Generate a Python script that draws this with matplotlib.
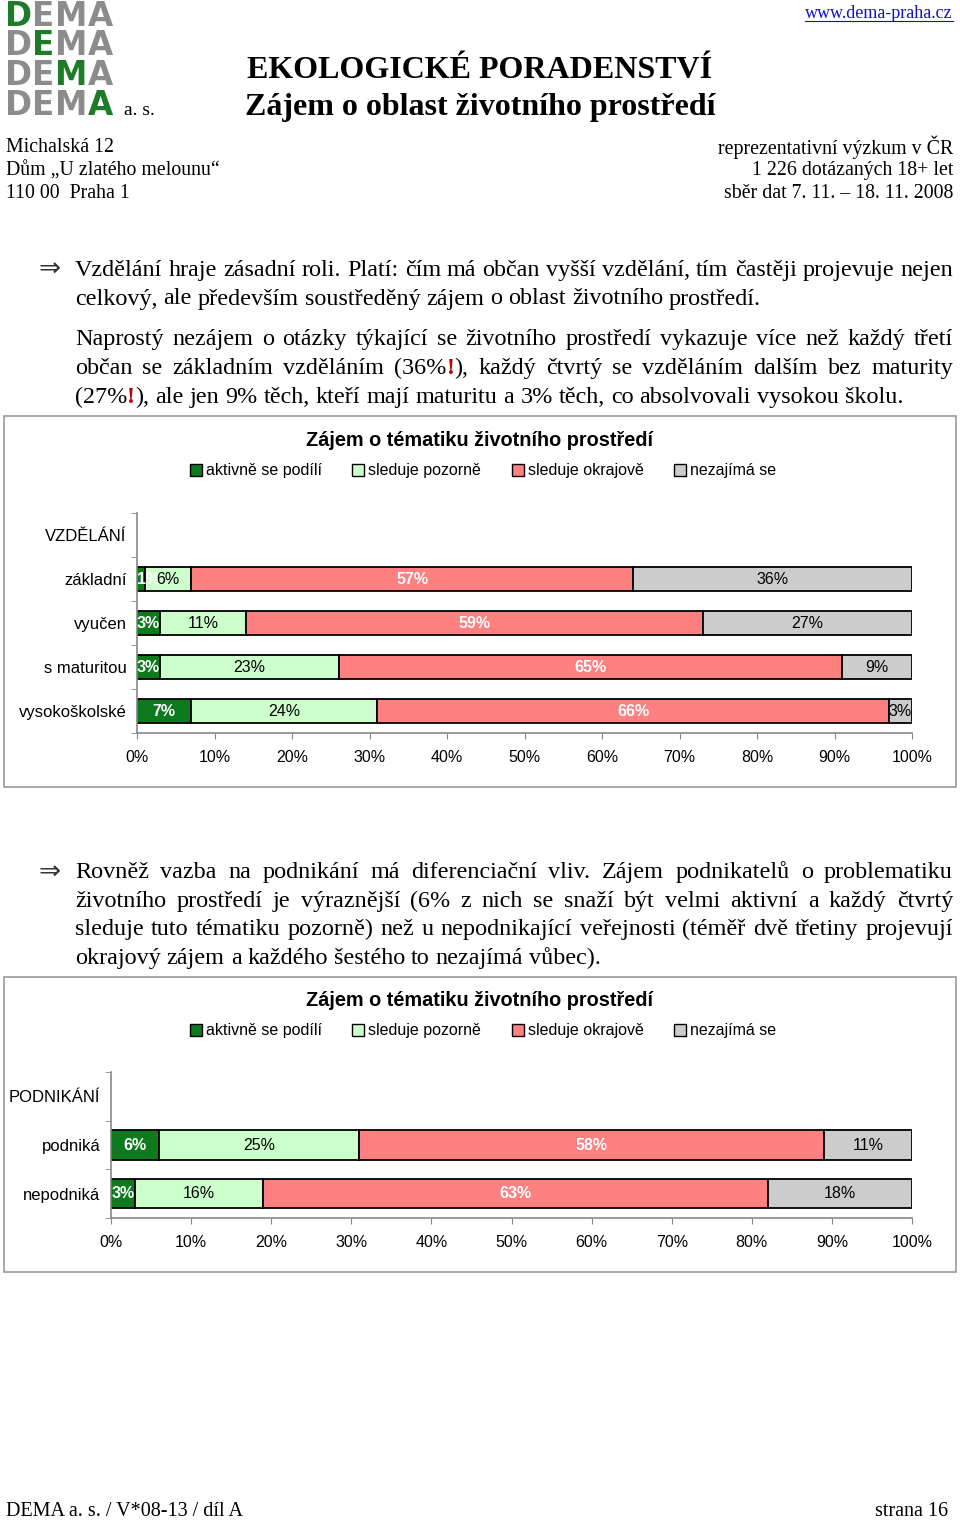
import numpy as np
import matplotlib
matplotlib.use('Agg')
import matplotlib.pyplot as plt
from matplotlib.patches import Rectangle, Patch
from matplotlib.lines import Line2D

# ---------- data ----------
series_names = ['aktivně se podílí', 'sleduje pozorně', 'sleduje okrajově', 'nezajímá se']
series_colors = ['#0E7A1E', '#CCFFCC', '#FF8080', '#CCCCCC']
label_colors = ['white', 'black', 'white', 'black']
label_weights = ['bold', 'normal', 'bold', 'normal']

edu_cats = ['VZDĚLÁNÍ', 'základní', 'vyučen', 's maturitou', 'vysokoškolské']
edu_active = [1, 3, 3, 7]
edu_careful = [6, 11, 23, 24]
edu_marginal = [57, 59, 65, 66]
edu_none = [36, 27, 9, 3]

biz_cats = ['PODNIKÁNÍ', 'podniká', 'nepodniká']
biz_active = [6, 3]
biz_careful = [25, 16]
biz_marginal = [58, 63]
biz_none = [11, 18]

chart_title = 'Zájem o tématiku životního prostředí'
x_ticks = [0, 10, 20, 30, 40, 50, 60, 70, 80, 90, 100]

para1 = [
    'Vzdělání hraje zásadní roli. Platí: čím má občan vyšší vzdělání, tím častěji projevuje nejen',
    'celkový, ale především soustředěný zájem o oblast životního prostředí.',
]
para2 = [
    'Naprostý nezájem o otázky týkající se životního prostředí vykazuje více než každý třetí',
    'občan se základním vzděláním (36%!), každý čtvrtý se vzděláním dalším bez maturity',
    '(27%!), ale jen 9% těch, kteří mají maturitu a 3% těch, co absolvovali vysokou školu.',
]
para3 = [
    'Rovněž vazba na podnikání má diferenciační vliv. Zájem podnikatelů o problematiku',
    'životního prostředí je výraznější (6% z nich se snaží být velmi aktivní a každý čtvrtý',
    'sleduje tuto tématiku pozorně) než u nepodnikající veřejnosti (téměř dvě třetiny projevují',
    'okrajový zájem a každého šestého to nezajímá vůbec).',
]

# ---------- page ----------
W, H = 960, 1520
fig = plt.figure(figsize=(9.6, 15.2), dpi=100)
renderer = fig.canvas.get_renderer()
SERIF = 'Liberation Serif'
SANS = 'Liberation Sans'


def fx(x):
    return x / W


def fy(y):
    return 1 - y / H


def put(x, y, s, **kw):
    return fig.text(fx(x), fy(y), s, **kw)


# logo
logo_green = '#1E7B2A'
logo_gray = '#8C8C8C'
letter_x = [5, 32, 55, 88]
row_base = [26, 55, 85, 115]
for r, y in enumerate(row_base):
    for i, ch in enumerate('DEMA'):
        put(letter_x[i], y, ch, family='DejaVu Sans', weight='bold', size=23.5,
            color=logo_green if i == r else logo_gray, va='baseline', ha='left')
put(124, 115, 'a. s.', family=SERIF, size=14, va='baseline')

# titles
put(480, 78, 'EKOLOGICKÉ PORADENSTVÍ', family=SERIF, weight='bold', size=23,
    ha='center', va='baseline')
put(480, 115, 'Zájem o oblast životního prostředí', family=SERIF, weight='bold',
    size=23, ha='center', va='baseline')

# link
link = put(953, 14, 'www.dema-praha.cz', family=SERIF, size=13, color='#1010CC',
           ha='right', va='center')
bb = link.get_window_extent(renderer)
fig.add_artist(Line2D([bb.x0 / W, bb.x1 / W], [fy(21), fy(21)], color='#1010CC', lw=0.8))

# address blocks
for y, s in zip([147, 171, 194], ['Michalská 12', 'Dům „U zlatého melounu“', '110 00  Praha 1']):
    put(6, y, s, family=SERIF, size=14.3, va='center')
for y, s in zip([147, 171, 194], ['reprezentativní výzkum v ČR', '1 226 dotázaných 18+ let',
                                  'sběr dat 7. 11. – 18. 11. 2008']):
    put(953, y, s, family=SERIF, size=14.3, va='center', ha='right')

# ---------- justified paragraphs ----------
PSIZE = 17.35


def pieces(word):
    out = []
    buf = ''
    for ch in word:
        if ch == '!':
            if buf:
                out.append((buf, False))
            out.append(('!', True))
            buf = ''
        else:
            buf += ch
    if buf:
        out.append((buf, False))
    return out


def piece_kw(red):
    if red:
        return dict(family=SERIF, size=PSIZE, color='#C00000', weight='bold')
    return dict(family=SERIF, size=PSIZE, color='black')


def width_of(s, **kw):
    t = fig.text(0, 0, s, **kw)
    w = t.get_window_extent(renderer).width
    t.remove()
    return w


def word_w(word):
    return sum(width_of(p, **piece_kw(r)) for p, r in pieces(word))


def draw_word(x, y, word):
    for p, r in pieces(word):
        put(x, y, p, va='baseline', ha='left', **piece_kw(r))
        x += width_of(p, **piece_kw(r))


space_w = width_of('a b', family=SERIF, size=PSIZE) - width_of('ab', family=SERIF, size=PSIZE)


def draw_par(lines, y0, step, x0=75, x1=953):
    for k, line in enumerate(lines):
        words = line.split(' ')
        ws = [word_w(w) for w in words]
        last = k == len(lines) - 1
        gap = space_w if last else (x1 - x0 - sum(ws)) / (len(words) - 1)
        x = x0
        for w, wd in zip(words, ws):
            draw_word(x, y0 + k * step, w)
            x += wd + gap


put(39, 276, '⇒', family='DejaVu Sans', size=19, va='baseline', color='#333333')
draw_par(para1, 276, 28.5)
draw_par(para2, 345, 28.8)
put(39, 879, '⇒', family='DejaVu Sans', size=19, va='baseline', color='#333333')
draw_par(para3, 878, 28.7)


# ---------- charts ----------
def frame(x0, y0, x1, y1):
    fig.add_artist(Rectangle((fx(x0), fy(y1)), (x1 - x0) / W, (y1 - y0) / H,
                             transform=fig.transFigure, fill=False,
                             edgecolor='#9A9A9A', lw=1.2))


def chart(ax, cats, data, bar_h, title_y, legend_y):
    n = len(cats)
    ypos = np.arange(1, n)
    left = np.zeros(n - 1)
    for s, vals in enumerate(data):
        vals = np.array(vals, dtype=float)
        bars = ax.barh(ypos, vals, left=left, height=bar_h, color=series_colors[s],
                       edgecolor='black', linewidth=1.3, zorder=2)
        for b, v, l, y in zip(bars, vals, left, ypos):
            if v < 2:
                xt, ha = l, 'left'
            else:
                xt, ha = l + v / 2, 'center'
            ax.text(xt, y, f'{int(v)}%', ha=ha, va='center', family=SANS, size=11.5,
                    color=label_colors[s], weight=label_weights[s], zorder=4)
        left = left + vals

    ax.set_xlim(0, 100)
    ax.set_ylim(n - 0.5, -0.5)
    ax.set_xticks(x_ticks)
    ax.set_xticklabels([f'{t}%' for t in x_ticks], family=SANS, size=11.5)
    ax.set_yticks(np.arange(n))
    ax.set_yticklabels(cats, family=SANS, size=12)
    ax.set_yticks(np.arange(n + 1) - 0.5, minor=True)
    ax.tick_params(axis='y', which='major', length=0, pad=7.5)
    ax.tick_params(axis='y', which='minor', length=4, color='#888888')
    ax.tick_params(axis='x', length=4, color='#888888', pad=8)
    for sp in ['top', 'right']:
        ax.spines[sp].set_visible(False)
    for sp in ['left', 'bottom']:
        ax.spines[sp].set_color('#888888')
        ax.spines[sp].set_linewidth(1.2)
    ax.set_facecolor('none')

    put(480, title_y, chart_title, family=SANS, weight='bold', size=14.3,
        ha='center', va='center')
    handles = [Patch(facecolor=c, edgecolor='black', lw=1) for c in series_colors]
    fig.legend(handles, series_names, loc='center', bbox_to_anchor=(fx(483), fy(legend_y)),
               ncol=4, frameon=False, prop={'family': SANS, 'size': 11.5},
               handlelength=0.75, handleheight=0.75, handletextpad=0.25,
               columnspacing=1.9, borderaxespad=0, borderpad=0)


frame(4, 416, 956, 787)
ax1 = fig.add_axes([fx(137), fy(733), (912 - 137) / W, (733 - 513) / H])
chart(ax1, edu_cats, [edu_active, edu_careful, edu_marginal, edu_none], 0.55, 441, 471)

frame(4, 977, 956, 1272)
ax2 = fig.add_axes([fx(111), fy(1218), (912 - 111) / W, (1218 - 1072) / H])
chart(ax2, biz_cats, [biz_active, biz_careful, biz_marginal, biz_none], 0.6, 1001, 1031)

# footer
put(6, 1512, 'DEMA a. s. / V*08-13 / díl A', family=SERIF, size=14.5, va='center')
put(948, 1512, 'strana 16', family=SERIF, size=14.5, va='center', ha='right')

fig.savefig('out.png', dpi=100)
